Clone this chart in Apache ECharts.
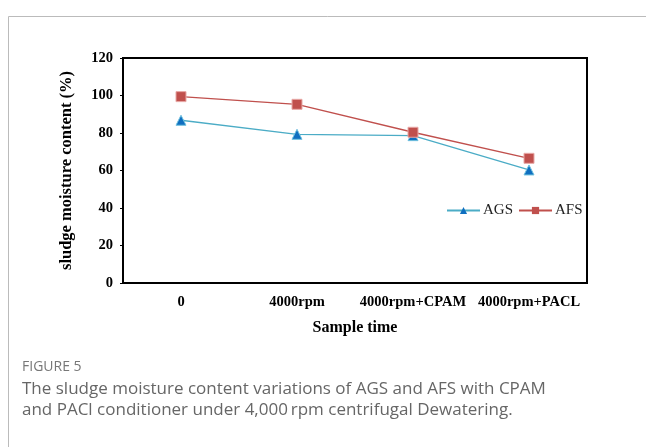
<!DOCTYPE html>
<html><head><meta charset="utf-8">
<script src="https://cdn.jsdelivr.net/npm/echarts@6/dist/echarts.min.js"></script>
<style>html,body{margin:0;padding:0;background:#fff}#c{width:646px;height:447px}</style>
</head><body><div id="c"></div>
<script>
const categories = ['0', '4000rpm', '4000rpm+CPAM', '4000rpm+PACL'];
const agsValues = [86.8, 79.3, 78.6, 60.3];
const afsValues = [99.4, 95.3, 80.4, 66.5];
const yTicks = [0, 20, 40, 60, 80, 100, 120];

const chart = echarts.init(document.getElementById('c'));
const serif = '"Liberation Serif", "Times New Roman", serif';
chart.setOption({
  animation: false,
  grid: { left: 123, top: 58, width: 464, height: 225, show: true, borderColor: '#000', borderWidth: 2, backgroundColor: 'transparent' },
  legend: {
    left: 446, top: 203, padding: 0, itemWidth: 33, itemHeight: 9, itemGap: 5,
    itemStyle: { borderWidth: 0 },
    textStyle: { fontFamily: serif, fontSize: 15, color: '#222', padding: [0, 0, 0, -2] },
    data: [
      { name: 'AGS', itemStyle: { color: '#0f6fc0', borderWidth: 0 } },
      { name: 'AFS', itemStyle: { color: '#c0504d', borderWidth: 0 } }
    ]
  },
  xAxis: {
    type: 'category', data: categories,
    name: 'Sample time', nameLocation: 'middle', nameGap: 37,
    nameTextStyle: { fontFamily: serif, fontSize: 16, fontWeight: 'bold', color: '#000' },
    axisLine: { lineStyle: { color: '#000', width: 2 } },
    axisTick: { inside: true, length: 5, lineStyle: { color: '#000', width: 1.5 } },
    axisLabel: { interval: 0, fontFamily: serif, fontSize: 14.5, fontWeight: 'bold', color: '#000', margin: 12 }
  },
  yAxis: {
    type: 'value', min: 0, max: 120, interval: 20,
    name: 'sludge moisture content (%)', nameLocation: 'middle', nameGap: 48, nameRotate: 90,
    nameTextStyle: { fontFamily: serif, fontSize: 16.5, fontWeight: 'bold', color: '#000' },
    axisLine: { show: true, lineStyle: { color: '#000', width: 2 } },
    axisTick: { show: true, length: 3, lineStyle: { color: '#000', width: 1 } },
    splitLine: { show: false },
    axisLabel: { fontFamily: serif, fontSize: 14.5, fontWeight: 'bold', color: '#000', margin: 10,
      formatter: v => yTicks.includes(v) ? String(v) : '' }
  },
  series: [
    { name: 'AGS', type: 'line', data: agsValues, symbol: 'triangle', symbolSize: 10,
      lineStyle: { color: '#4bacc6', width: 1.3 }, itemStyle: { color: '#0f6fc0', borderColor: '#6fc0de', borderWidth: 1 } },
    { name: 'AFS', type: 'line', data: afsValues, symbol: 'rect', symbolSize: 10,
      lineStyle: { color: '#c0504d', width: 1.3 }, itemStyle: { color: '#c0504d', borderColor: '#e8a8a6', borderWidth: 1 } }
  ],
  graphic: [
    { type: 'line', shape: { x1: 8.5, y1: 16.5, x2: 646, y2: 16.5 }, style: { stroke: '#bbb', lineWidth: 1 } },
    { type: 'line', shape: { x1: 8.5, y1: 16.5, x2: 8.5, y2: 447 }, style: { stroke: '#bbb', lineWidth: 1 } },
    { type: 'text', left: 22, top: 360, style: { text: 'FIGURE 5', font: '14px "Open Sans", sans-serif', fill: '#777' } },
    { type: 'text', left: 22, top: 381, style: { text: 'The sludge moisture content variations of AGS and AFS with CPAM', font: '17px "Open Sans", sans-serif', fill: '#666' } },
    { type: 'text', left: 22, top: 402, style: { text: 'and PACl conditioner under 4,000\u2009rpm centrifugal Dewatering.', font: '17px "Open Sans", sans-serif', fill: '#666' } }
  ]
});
</script></body></html>
